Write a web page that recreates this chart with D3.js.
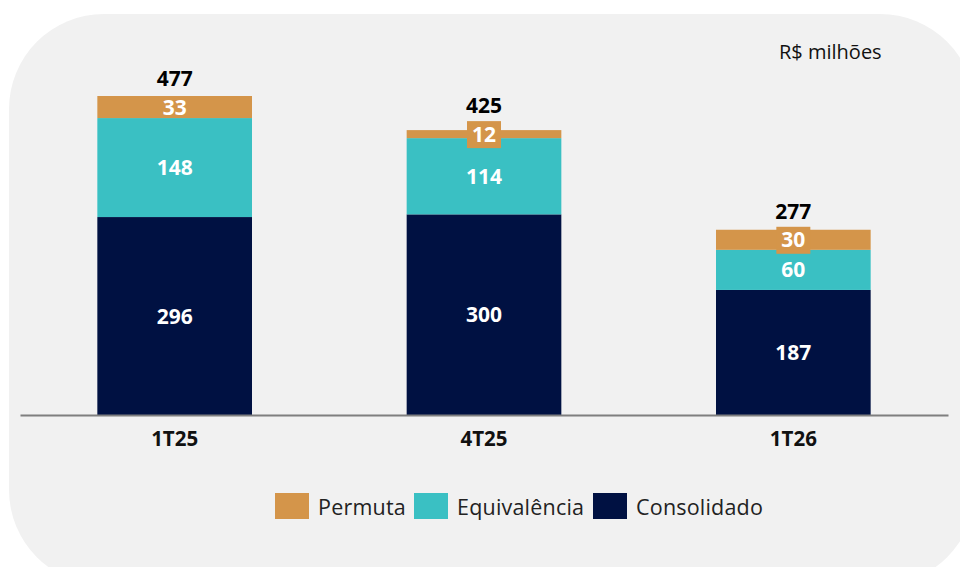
<!DOCTYPE html>
<html><head><meta charset="utf-8">
<script src="https://cdn.jsdelivr.net/npm/d3@7"></script>
<style>body{margin:0;background:#fff}svg{display:block}</style>
</head><body>
<svg id="c" width="960" height="567"></svg>
<script>
const categories = ["1T25", "4T25", "1T26"];
const consolidado = [296, 300, 187];
const equivalencia = [148, 114, 60];
const permuta = [33, 12, 30];
const totals = [477, 425, 277];
const seriesNames = ["Consolidado", "Equivalência", "Permuta"];
const legendOrder = ["Permuta", "Equivalência", "Consolidado"];
const colors = {"Consolidado": "#001142", "Equivalência": "#3AC0C3", "Permuta": "#D4954A"};
const unitLabel = "R$ milhões";

const svg = d3.select("#c");
const font = "'Open Sans', 'Noto Sans', sans-serif";

// background rounded panel
svg.append("rect").attr("x", 9).attr("y", 14).attr("width", 966).attr("height", 571)
  .attr("rx", 95).attr("ry", 95).attr("fill", "#F1F1F1");

const baseY = 415;
const x = d3.scaleBand().domain(categories).range([20, 948]).paddingInner(0.5).paddingOuter(0.25);
const y = d3.scaleLinear().domain([0, 477]).range([baseY, 96]);

const rows = categories.map((c, i) => ({cat: c, Consolidado: consolidado[i], "Equivalência": equivalencia[i], Permuta: permuta[i], total: totals[i]}));
const stacked = d3.stack().keys(seriesNames)(rows);

const g = svg.append("g");
stacked.forEach(s => {
  g.selectAll(null).data(s).enter().append("rect")
    .attr("x", d => x(d.data.cat))
    .attr("width", x.bandwidth())
    .attr("y", d => y(d[1]))
    .attr("height", d => y(d[0]) - y(d[1]))
    .attr("fill", colors[s.key]);
});

// axis line
const axis = d3.axisBottom(x).tickSize(0).tickPadding(16);
const ax = svg.append("g").attr("transform", `translate(0,${baseY})`).call(axis);
ax.select(".domain").attr("stroke", "#7F7F7F").attr("stroke-width", 2);
ax.selectAll("text").attr("font-family", font).attr("font-weight", "bold")
  .attr("font-size", 20.5).attr("fill", "#111").attr("dy", "0.71em");

// segment labels
const boxTops = categories.map(() => null);
stacked.forEach(s => {
  s.forEach((d, i) => {
    const cx = x(d.data.cat) + x.bandwidth() / 2;
    const y0 = y(d[0]), y1 = y(d[1]);
    const cy = (y0 + y1) / 2;
    const h = y0 - y1;
    const val = d[1] - d[0];
    if (h < 22) {
      const bh = 27, bw = 34;
      svg.append("rect").attr("x", cx - bw / 2).attr("y", cy - bh / 2 + 0.5)
        .attr("width", bw).attr("height", bh).attr("fill", colors[s.key]);
      boxTops[i] = cy - bh / 2;
    }
    svg.append("text").attr("x", cx).attr("y", cy).attr("dy", "0.36em")
      .attr("text-anchor", "middle").attr("font-family", font).attr("font-weight", "bold")
      .attr("font-size", 21).attr("fill", "#fff").text(val);
  });
});

// total labels
rows.forEach((r, i) => {
  const cx = x(r.cat) + x.bandwidth() / 2;
  const top = boxTops[i] !== null ? Math.min(boxTops[i] + 3, y(r.total)) : y(r.total);
  svg.append("text").attr("x", cx).attr("y", top - 18).attr("dy", "0.36em")
    .attr("text-anchor", "middle").attr("font-family", font).attr("font-weight", "bold")
    .attr("font-size", 21).attr("fill", "#000").text(r.total);
});

// unit label
svg.append("text").attr("x", 779).attr("y", 52).attr("dy", "0.36em")
  .attr("font-family", font).attr("font-size", 20).attr("fill", "#111").text(unitLabel);

// legend
const legX = [275, 414, 593];
legendOrder.forEach((k, i) => {
  svg.append("rect").attr("x", legX[i]).attr("y", 493).attr("width", 34).attr("height", 26)
    .attr("fill", colors[k]);
  svg.append("text").attr("x", legX[i] + 43).attr("y", 507).attr("dy", "0.36em")
    .attr("font-family", font).attr("font-size", 21.5).attr("letter-spacing", 0.2)
    .attr("fill", "#222").text(k);
});
</script>
</body></html>
